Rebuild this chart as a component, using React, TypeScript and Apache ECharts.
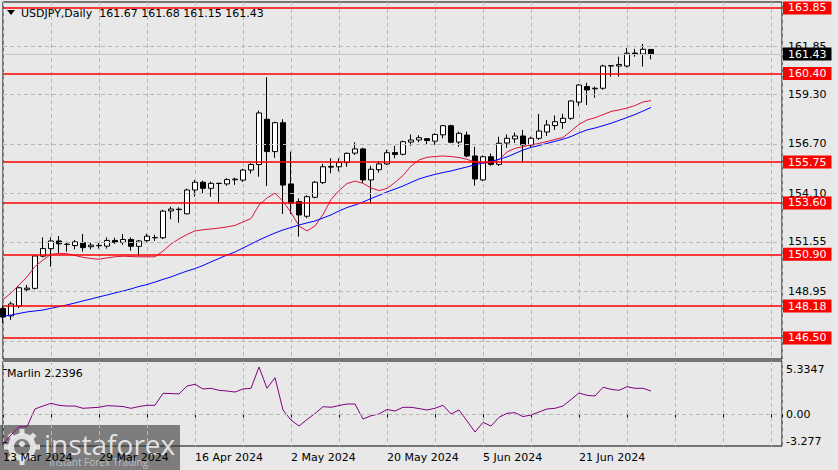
import React, { useEffect, useRef } from 'react';
import * as echarts from 'echarts';

// ---- categories (trading days) ----
const marDays = [13, 14, 15, 18, 19, 20, 21, 22, 25, 26, 27, 28, 29];
const aprDays = [1, 2, 3, 4, 5, 8, 9, 10, 11, 12, 15, 16, 17, 18, 19, 22, 23, 24, 25, 26, 29, 30];
const mayDays = [1, 2, 3, 6, 7, 8, 9, 10, 13, 14, 15, 16, 17, 20, 21, 22, 23, 24, 27, 28, 29, 30, 31];
const junDays = [3, 4, 5, 6, 7, 10, 11, 12, 13, 14, 17, 18, 19, 20, 21, 24, 25, 26, 27, 28];
const julDays = [1, 2, 3, 4];
const dates: string[] = [
  ...marDays.map((d) => `${d} Mar 2024`),
  ...aprDays.map((d) => `${d} Apr 2024`),
  ...mayDays.map((d) => `${d} May 2024`),
  ...junDays.map((d) => `${d} Jun 2024`),
  ...julDays.map((d) => `${d} Jul 2024`),
];

// ---- OHLC ----
const opens = [148.05,147.66,148.18,149.04,149.11,150.80,151.20,151.60,151.42,151.36,
  151.51,151.30,151.35,151.33,151.63,151.53,151.68,151.32,151.62,151.77,
  151.77,153.18,153.27,153.03,154.28,154.69,154.37,154.63,154.60,154.82,
  154.80,155.33,155.62,158.00,156.30,157.82,154.60,153.67,152.90,153.90,
  154.67,155.48,155.50,155.72,156.22,156.44,154.81,155.35,155.65,156.25,
  156.16,156.80,156.91,156.98,156.85,157.18,157.66,156.80,157.17,156.07,
  154.81,156.03,155.63,156.75,156.97,157.12,156.65,157.00,157.33,157.67,
  157.83,158.05,158.90,159.72,159.60,159.63,160.80,160.80,160.80,161.48,
  161.43,161.67];
const highs = [148.20,148.41,149.20,149.29,150.85,151.79,151.79,151.86,151.56,151.65,
  151.97,151.50,151.50,151.79,151.77,151.97,151.79,151.65,151.98,151.93,
  153.24,153.40,153.37,154.35,154.81,154.77,154.72,154.67,154.90,154.93,
  155.40,155.70,158.45,160.21,157.87,158.00,156.30,153.84,154.00,154.75,
  155.65,155.95,155.95,156.25,156.79,156.50,155.55,155.80,156.40,156.60,
  156.88,157.20,157.16,157.00,157.27,157.70,157.71,157.35,157.35,156.56,
  156.10,156.20,157.08,157.20,157.30,157.44,157.08,158.28,157.96,158.20,
  158.29,159.00,159.85,159.92,159.71,160.87,160.85,161.29,161.74,161.70,
  161.96,161.68];
const lows = [147.30,147.45,148.07,148.93,149.05,150.74,150.25,150.98,151.04,151.16,
  151.04,151.16,151.20,151.20,151.45,151.40,151.09,150.81,151.55,151.60,
  151.70,152.74,152.56,153.00,153.93,154.10,153.93,153.58,154.50,154.55,
  154.70,155.15,154.98,154.49,155.97,153.02,153.02,151.83,152.80,153.84,
  154.60,155.16,155.26,155.50,156.12,154.65,153.58,155.20,155.60,155.95,
  156.10,156.60,156.79,156.66,156.66,157.00,156.74,156.56,156.00,154.51,
  154.75,155.55,155.54,156.50,156.75,155.72,156.50,156.91,157.12,157.44,
  157.50,157.97,158.69,158.75,159.13,159.55,160.24,160.24,160.73,161.29,
  160.77,161.15];
const closes = [147.60,148.29,149.14,149.12,150.81,151.20,151.60,151.45,151.43,151.55,
  151.25,151.38,151.37,151.63,151.53,151.68,151.32,151.60,151.85,151.78,
  153.17,153.28,153.25,154.28,154.69,154.37,154.63,154.62,154.83,154.85,
  155.33,155.62,158.33,156.30,157.82,154.54,153.58,152.97,153.93,154.69,
  155.50,155.52,155.72,156.21,156.44,154.81,155.37,155.65,156.24,156.15,
  156.82,156.91,157.03,156.88,157.20,157.66,156.79,157.26,156.07,154.86,
  156.03,155.63,156.74,157.00,157.12,156.65,157.00,157.38,157.70,157.87,
  158.05,158.96,159.80,159.54,159.63,160.80,160.82,160.88,161.47,161.45,
  161.68,161.43];

// ---- moving averages ----
const maRed = [148.52,148.87,149.29,149.71,150.26,150.60,150.90,150.95,150.93,150.84,
  150.74,150.68,150.64,150.71,150.77,150.80,150.78,150.77,150.77,150.77,
  151.07,151.44,151.71,151.94,152.13,152.19,152.23,152.28,152.34,152.42,
  152.60,152.78,153.49,153.86,154.12,153.68,153.10,152.39,152.13,152.39,
  152.99,153.78,154.25,154.62,154.75,154.63,154.39,154.25,154.36,154.68,
  155.04,155.54,155.86,156.00,156.04,156.07,156.04,155.99,155.89,155.75,
  155.69,155.73,155.88,156.28,156.47,156.56,156.65,156.73,156.83,156.94,
  157.04,157.38,157.73,157.96,158.08,158.24,158.41,158.49,158.59,158.72,
  158.91,158.98];
const maBlue = [147.64,147.71,147.79,147.87,147.92,147.97,148.06,148.15,148.24,148.34,
  148.45,148.55,148.66,148.76,148.87,148.97,149.08,149.21,149.31,149.44,
  149.58,149.71,149.87,150.02,150.15,150.31,150.50,150.68,150.86,151.02,
  151.23,151.44,151.65,151.84,152.02,152.18,152.31,152.44,152.55,152.65,
  152.81,152.97,153.18,153.36,153.49,153.65,153.83,154.00,154.18,154.33,
  154.49,154.68,154.86,154.99,155.10,155.20,155.28,155.39,155.49,155.61,
  155.70,155.78,155.90,156.02,156.20,156.38,156.52,156.62,156.73,156.84,
  156.95,157.09,157.28,157.44,157.54,157.66,157.79,157.94,158.09,158.25,
  158.43,158.62];

// ---- Marlin oscillator ----
const marlin = [-3.5,-2.45,-1.47,-1.47,0.63,0.98,1.30,1.07,0.98,0.98,
  0.71,0.77,0.83,1.02,0.98,0.92,0.71,0.92,1.07,1.07,
  2.49,2.46,2.41,3.35,3.55,3.00,3.08,2.84,2.76,2.64,
  3.00,3.08,5.60,3.08,4.34,0.51,-0.68,-1.39,-0.62,0.09,
  0.90,0.83,1.04,1.22,1.22,-0.56,-0.17,0.04,0.57,0.39,
  0.83,0.83,0.68,0.51,0.71,1.07,0.04,0.51,-0.79,-2.10,
  -0.95,-1.39,-0.36,0.12,0.19,-0.27,-0.08,0.27,0.63,0.71,
  0.98,1.75,2.52,2.25,2.17,3.20,2.96,2.84,3.27,3.08,
  3.08,2.76];

// ---- levels & ticks ----
const levels = [163.85, 160.40, 155.75, 153.60, 150.90, 148.18, 146.50];
const gridPrices = [161.85, 159.30, 156.70, 154.10, 151.55, 148.95, 146.35];
const priceLabels = [161.85, 159.30, 156.70, 154.10, 151.55, 148.95];
const lastPrice = 161.43;
const marlinTicks = [5.3347, 0, -3.277];
const marlinTickLabels = ['5.3347', '0.00', '-3.277'];
const headerText = 'USDJPY,Daily  161.67 161.68 161.15 161.43';
const marlinTitle = 'Marlin 2.2396';

const FONT = 'DejaVu Sans';

export default function App() {
  const ref = useRef<HTMLDivElement>(null);
  useEffect(() => {
    if (!ref.current) return;
    const chart = echarts.init(ref.current, undefined, { renderer: 'svg' });
    const xMax = 97.375;
    const candleData = dates.map((_, i) => [i, opens[i], closes[i], lows[i], highs[i]]);
    const dateFmt = (v: number) => {
      const r = Math.round(v);
      if (Math.abs(v - r) > 1e-6 || r % 12 !== 0) return '';
      return dates[r] || '';
    };
    const option: any = {
      animation: false,
      backgroundColor: '#e8e8e8',
      textStyle: { fontFamily: FONT },
      grid: [
        { left: 3, top: 2, width: 779, height: 357, show: true, borderColor: '#000', borderWidth: 1, backgroundColor: 'transparent' },
        { left: 3, top: 361, width: 779, height: 85, show: true, borderColor: '#000', borderWidth: 1, backgroundColor: 'transparent' },
      ],
      xAxis: [
        {
          gridIndex: 0, type: 'value', min: 0, max: xMax, interval: 6,
          axisLabel: { show: false }, axisTick: { show: false }, axisLine: { show: false },
          splitLine: { show: true, lineStyle: { color: '#b8b8b8', type: [4, 3], width: 1 } },
        },
        {
          gridIndex: 1, type: 'value', min: 0, max: xMax, interval: 6,
          axisLabel: { formatter: dateFmt, align: 'left', color: '#000', fontSize: 11, fontFamily: FONT, margin: 6, showMinLabel: true, showMaxLabel: true },
          axisTick: { show: true, length: 3, lineStyle: { color: '#000' } },
          axisLine: { show: false },
          splitLine: { show: true, lineStyle: { color: '#b8b8b8', type: [4, 3], width: 1 } },
        },
      ],
      yAxis: [
        {
          gridIndex: 0, type: 'value', position: 'right', min: 145.395, max: 164.165, scale: true,
          axisLine: { show: false }, splitLine: { show: false },
          axisTick: { show: true, customValues: priceLabels, length: 4, lineStyle: { color: '#000' } },
          axisLabel: { customValues: priceLabels, formatter: (v: number) => v.toFixed(2), color: '#000', fontSize: 11, fontFamily: FONT, margin: 6 },
        },
        {
          gridIndex: 1, type: 'value', position: 'right', min: -3.756, max: 6.315, scale: true,
          axisLine: { show: false }, splitLine: { show: false },
          axisTick: { show: true, customValues: marlinTicks, length: 4, lineStyle: { color: '#000' } },
          axisLabel: {
            customValues: marlinTicks,
            formatter: (v: number) => {
              let best = 0;
              marlinTicks.forEach((t, k) => { if (Math.abs(t - v) < Math.abs(marlinTicks[best] - v)) best = k; });
              return marlinTickLabels[best];
            },
            color: '#000', fontSize: 11, fontFamily: FONT, margin: 4,
          },
        },
      ],
      series: [
        {
          type: 'line', xAxisIndex: 0, yAxisIndex: 0, data: [], z: 1, silent: true,
          markLine: {
            silent: true, symbol: ['none', 'none'], label: { show: false },
            lineStyle: { color: '#b8b8b8', type: [4, 3], width: 1 },
            data: gridPrices.map((v) => ({ yAxis: v })),
          },
        },
        {
          type: 'candlestick', xAxisIndex: 0, yAxisIndex: 0, z: 2,
          dimensions: ['idx', 'open', 'close', 'lowest', 'highest'],
          encode: { x: 'idx', y: ['open', 'close', 'lowest', 'highest'] },
          data: candleData, barWidth: 5,
          itemStyle: { color: '#ffffff', color0: '#000000', borderColor: '#000000', borderColor0: '#000000', borderWidth: 1 },
        },
        {
          type: 'line', xAxisIndex: 0, yAxisIndex: 0, z: 3, symbol: 'none', silent: true,
          data: maRed.map((v, i) => [i, v]), lineStyle: { color: '#dc143c', width: 1 },
        },
        {
          type: 'line', xAxisIndex: 0, yAxisIndex: 0, z: 3, symbol: 'none', silent: true,
          data: maBlue.map((v, i) => [i, v]), lineStyle: { color: '#0000ff', width: 1 },
        },
        {
          type: 'line', xAxisIndex: 0, yAxisIndex: 0, data: [], z: 4, silent: true,
          markLine: {
            silent: true, symbol: ['none', 'none'],
            lineStyle: { color: '#ff0000', type: 'solid', width: 1.5 },
            label: {
              show: true, position: 'end', distance: 1,
              formatter: (p: any) => Number(p.value).toFixed(2),
              color: '#ffffff', backgroundColor: '#ff0000', padding: [1, 5, 0, 5],
              fontSize: 11, fontFamily: FONT, lineHeight: 12,
            },
            data: levels.map((v) => ({ yAxis: v })),
          },
        },
        {
          type: 'line', xAxisIndex: 0, yAxisIndex: 0, data: [], z: 5, silent: true,
          markLine: {
            silent: true, symbol: ['none', 'none'],
            lineStyle: { color: '#c4c4c4', type: 'solid', width: 1 },
            label: {
              show: true, position: 'end', distance: 1,
              formatter: (p: any) => Number(p.value).toFixed(2),
              color: '#ffffff', backgroundColor: '#000000', padding: [1, 5, 0, 5],
              fontSize: 11, fontFamily: FONT, lineHeight: 12,
            },
            data: [{ yAxis: lastPrice }],
          },
        },
        {
          type: 'line', xAxisIndex: 1, yAxisIndex: 1, z: 3, symbol: 'none', silent: true,
          data: marlin.map((v, i) => [i, v]), lineStyle: { color: '#800080', width: 1 },
          markLine: {
            silent: true, symbol: ['none', 'none'], label: { show: false },
            lineStyle: { color: '#b8b8b8', type: [4, 3], width: 1 },
            data: [{ yAxis: 0 }],
          },
        },
      ],
      graphic: [
        { type: 'polygon', shape: { points: [[7, 10], [15, 10], [11, 15]] }, style: { fill: '#000' }, z: 10 },
        { type: 'text', x: 21, y: 13, style: { text: headerText, fill: '#000', font: `11px "${FONT}"`, verticalAlign: 'middle' }, z: 10 },
        { type: 'text', x: 7, y: 373, style: { text: marlinTitle, fill: '#000', font: `11px "${FONT}"`, verticalAlign: 'middle' }, z: 10 },
        {
          type: 'group', z: 20,
          children: [
            { type: 'rect', shape: { x: 0, y: 425, width: 180, height: 45 }, style: { fill: 'rgba(60,60,60,0.62)' } },
            { type: 'ring', shape: { cx: 22, cy: 447, r: 14, r0: 8 }, style: { fill: 'rgba(235,235,235,0.9)' } },
            ...[0, 45, 90, 135, 180, 225, 270, 315].map((a) => ({
              type: 'rect', x: 22, y: 447, rotation: (a * Math.PI) / 180,
              shape: { x: -2.5, y: -18, width: 5, height: 6 }, style: { fill: 'rgba(235,235,235,0.9)' },
            })),
            { type: 'circle', shape: { cx: 22, cy: 444, r: 3 }, style: { fill: 'rgba(235,235,235,0.9)' } },
            { type: 'text', x: 44, y: 444, style: { text: 'instaforex', fill: 'rgba(238,238,238,0.92)', font: '28px "Open Sans"', verticalAlign: 'middle' } },
            { type: 'text', x: 49, y: 462, style: { text: 'Instant Forex Trading', fill: 'rgba(200,200,200,0.9)', font: '10px "Open Sans"', verticalAlign: 'middle' } },
          ],
        },
      ],
    };
    chart.setOption(option);
    return () => chart.dispose();
  }, []);
  return (
    <div
      ref={ref}
      style={{ position: 'absolute', left: 0, top: 0, width: 838, height: 470, background: '#e8e8e8' }}
    />
  );
}
